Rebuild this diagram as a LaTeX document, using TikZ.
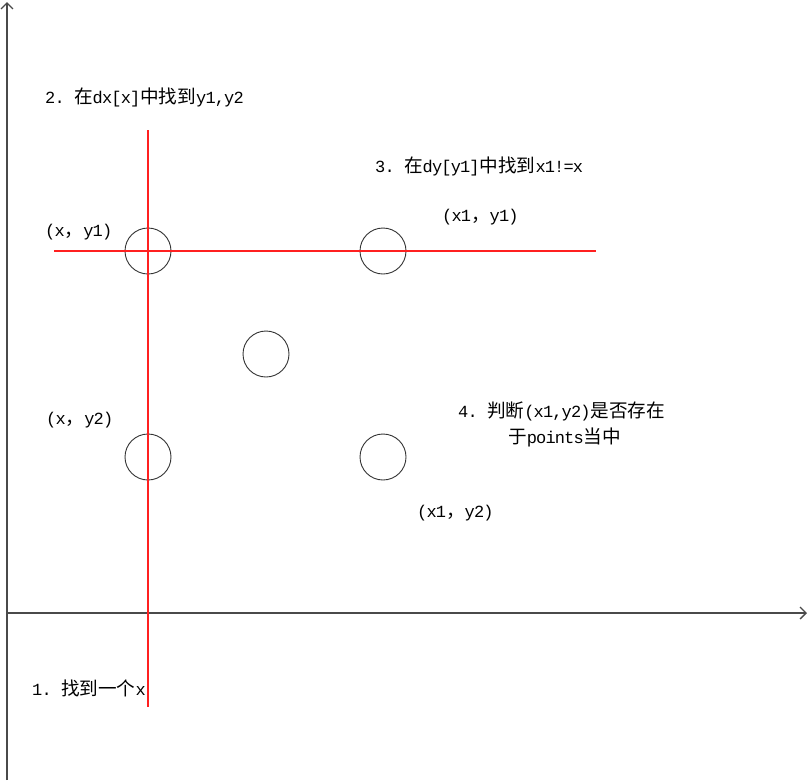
\documentclass[tikz,border=0pt]{standalone}
\usepackage{fontspec}
\setmainfont{Liberation Mono}[LetterSpace=-5]
\newfontfamily\cjk{Noto Sans CJK SC}[Scale=1.095]
\usetikzlibrary{arrows.meta}
\definecolor{axisgray}{HTML}{4A4A4A}
\definecolor{redl}{HTML}{FF2020}
\tikzset{
  axis/.style={draw=axisgray, line width=1.3pt, -{Straight Barb[length=6pt,width=12pt]}},
  redline/.style={draw=redl, line width=1.3pt},
  pt/.style={circle, draw=black!80, line width=0.9pt, minimum size=46pt, inner sep=0pt},
  lbl/.style={anchor=west, inner sep=0pt, font=\fontsize{17}{20}\selectfont, text=black},
}
\begin{document}
\begin{tikzpicture}[x=1pt,y=-1pt]
\useasboundingbox (0,0) rectangle (809,780);
% axes
\coordinate (o1) at (7,780);
\coordinate (ytop) at (7,2);
\coordinate (o2) at (7,613);
\coordinate (xright) at (807,613);
\draw[axis] (o1) -- (ytop);
\draw[axis] (o2) -- (xright);
% red lines
\coordinate (vtop) at (148,130);
\coordinate (vbot) at (148,707);
\coordinate (leftend) at (54,251);
\coordinate (rightend) at (596,251);
% points
\node[pt] (p1) at (148,251) {};
\node[pt] (p2) at (383,251) {};
\node[pt] (p3) at (266,354) {};
\node[pt] (p4) at (148,457) {};
\node[pt] (p5) at (383,457) {};
\draw[redline] (vtop) -- (vbot);
\draw[redline] (leftend) -- (rightend);
% labels
\node[lbl] (t2) at (45,97) {2.\ {\cjk 在}dx[x]{\cjk 中找到}y1,y2};
\node[lbl] (l1) at (45,232) {(x{\cjk ，}y1)};
\node[lbl] (t3) at (375,166) {3.\ {\cjk 在}dy[y1]{\cjk 中找到}x1!=x};
\node[lbl] (l2) at (442,217) {(x1{\cjk ，}y1)};
\node[lbl] (l3) at (46,420) {(x{\cjk ，}y2)};
\node[lbl] (t4a) at (458,411) {4.\ {\cjk 判断}(x1,y2){\cjk 是否存在}};
\node[lbl] (t4b) at (508,437) {{\cjk 于}points{\cjk 当中}};
\node[lbl] (l4) at (417,513) {(x1{\cjk ，}y2)};
\node[lbl] (t1) at (32,688) {1.\ {\cjk 找到一个}x};
\end{tikzpicture}
\end{document}
